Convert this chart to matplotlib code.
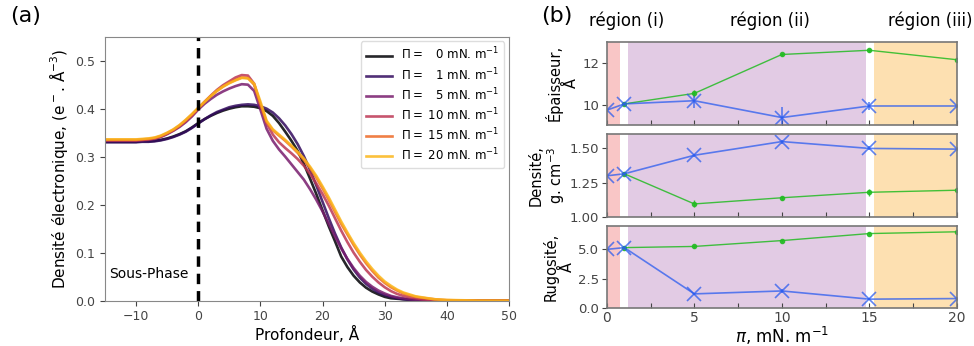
import numpy as np
import matplotlib
matplotlib.use("Agg")
import matplotlib.pyplot as plt

# ---------------- data: panel (a) ----------------
depth = [-15, -12, -10, -9, -8, -7, -6, -5, -4, -3, -2, -1, 0, 1, 2, 3, 4, 5, 6, 7, 8, 9,
         10, 11, 12, 13, 14, 15, 16, 17, 18, 19, 20, 21, 22, 23, 24, 25, 26, 27, 28, 29,
         30, 31, 32, 33, 34, 35, 36, 38, 40, 45, 50]

rho_0 = [.331, .331, .331, .332, .332, .333, .335, .338, .342, .347, .353, .361, .370, .378, .385,
         .391, .396, .400, .403, .405, .405, .404, .401, .395, .385, .370, .352, .333, .312, .285,
         .254, .222, .188, .155, .124, .092, .070, .052, .038, .027, .019, .013, .008, .005, .004,
         .003, .002, .001, .0005, 0, 0, 0, 0]
rho_1 = [.330, .330, .330, .331, .331, .332, .334, .337, .341, .346, .352, .360, .369, .378, .386,
         .393, .398, .403, .406, .408, .409, .408, .405, .400, .392, .380, .365, .347, .326, .301,
         .272, .240, .206, .172, .140, .111, .086, .065, .048, .035, .025, .017, .012, .008, .005,
         .003, .002, .001, .0005, 0, 0, 0, 0]
rho_5 = [.333, .333, .333, .334, .335, .337, .341, .347, .354, .362, .372, .384, .398, .410, .420,
         .429, .436, .442, .447, .451, .450, .437, .398, .358, .333, .315, .300, .284, .268, .252,
         .232, .210, .186, .160, .134, .109, .087, .068, .052, .039, .029, .021, .015, .010, .007,
         .005, .003, .002, .001, .0005, 0, 0, 0]
rho_10 = [.334, .334, .334, .335, .336, .338, .342, .348, .355, .364, .374, .386, .400, .414, .427,
          .439, .449, .457, .465, .470, .469, .452, .408, .370, .346, .330, .318, .307, .295, .281,
          .264, .244, .222, .198, .172, .146, .122, .100, .081, .064, .050, .038, .028, .020, .014,
          .010, .007, .005, .003, .001, .0005, 0, 0]
rho_15 = [.335, .335, .335, .336, .337, .339, .343, .349, .356, .365, .376, .388, .401, .414, .426,
          .437, .446, .454, .460, .465, .464, .450, .410, .372, .355, .344, .333, .321, .308, .293,
          .276, .256, .234, .210, .185, .160, .138, .116, .096, .078, .062, .048, .037, .028, .021,
          .015, .011, .008, .006, .003, .001, 0, 0]
rho_20 = [.336, .336, .336, .337, .338, .340, .344, .350, .357, .366, .377, .389, .402, .414, .426,
          .437, .446, .453, .459, .464, .463, .452, .415, .375, .357, .346, .335, .323, .310, .296,
          .279, .260, .238, .215, .190, .165, .142, .120, .100, .082, .066, .052, .040, .031, .023,
          .017, .013, .009, .007, .003, .0015, .0002, 0]
profiles = [rho_0, rho_1, rho_5, rho_10, rho_15, rho_20]
pressures = ["0", "1", "5", "10", "15", "20"]

# ---------------- data: panel (b) ----------------
pi_blue = [0, 1, 5, 10, 15, 20]
pi_green = [1, 5, 10, 15, 20]
thick_blue = [9.75, 10.05, 10.2, 9.4, 9.95, 9.95]
thick_blue_err = [0.1, 0.1, 0.35, 0.5, 0.2, 0.1]
thick_green = [10.05, 10.55, 12.4, 12.6, 12.15]
thick_green_err = [0.05, 0.15, 0.08, 0.08, 0.05]
dens_blue = [1.30, 1.315, 1.45, 1.55, 1.50, 1.495]
dens_blue_err = [0.01, 0.01, 0.01, 0.015, 0.015, 0.01]
dens_green = [1.315, 1.095, 1.14, 1.18, 1.195]
dens_green_err = [0.01, 0.025, 0.015, 0.025, 0.01]
rough_blue = [5.0, 5.15, 1.2, 1.45, 0.75, 0.8]
rough_blue_err = [0.1, 0.1, 0.1, 0.2, 0.1, 0.1]
rough_green = [5.15, 5.25, 5.75, 6.35, 6.5]
rough_green_err = [0.05, 0.1, 0.1, 0.15, 0.05]
region_labels = ["région (i)", "région (ii)", "région (iii)"]

# ---------------- figure ----------------
fig = plt.figure(figsize=(9.74, 3.46), dpi=100)
tick_col = "#444444"
spine_col = "#888888"

ax = fig.add_axes([0.1078, 0.131, 0.4148, 0.763])
colors = plt.cm.inferno(np.linspace(0, 1, 7))[:6]
for prof, p, c in zip(profiles, pressures, colors):
    lab = r"$\Pi=$ " + ("\u2007" if len(p) == 1 else "") + p + r" mN. m$^{-1}$"
    ax.plot(depth, prof, color=c, lw=1.9, alpha=0.85, label=lab)
ax.axvline(0, color="black", lw=2.5, ls=(0, (3, 2)))
ax.text(-14.3, 0.055, "Sous-Phase", fontsize=10, va="center", ha="left")
ax.set_xlim(-15, 50)
ax.set_ylim(0, 0.55)
ax.set_xticks([-10, 0, 10, 20, 30, 40, 50])
ax.set_yticks([0.0, 0.1, 0.2, 0.3, 0.4, 0.5])
ax.set_xlabel("Profondeur, Å", fontsize=11, labelpad=2)
ax.set_ylabel(r"Densité électronique, (e$^-$. Å$^{-3}$)", fontsize=11)
ax.tick_params(labelsize=9, colors=tick_col)
for s in ax.spines.values():
    s.set_color(spine_col)
leg = ax.legend(loc="upper right", fontsize=8.5, framealpha=1, edgecolor="#dddddd",
                handlelength=2.2, labelspacing=0.3, borderaxespad=0.4)
fig.text(0.010, 0.935, "(a)", fontsize=16)

# right panels
rb = [0.623, 0.3595]
heights = [(0.639, 0.240), (0.373, 0.240), (0.110, 0.237)]
blue = "#2a5cf0"
green = "#22bb22"
panels = [
    (thick_blue, thick_blue_err, thick_green, thick_green_err, (9.05, 13.0), [10, 12], "Épaisseur,\nÅ", -0.08),
    (dens_blue, dens_blue_err, dens_green, dens_green_err, (1.0, 1.606), [1.0, 1.25, 1.5], "Densité,\ng. cm$^{-3}$", -0.115),
    (rough_blue, rough_blue_err, rough_green, rough_green_err, (0, 7.0), [0.0, 2.5, 5.0], "Rugosité,\nÅ", -0.09),
]
for i, (yb, eb, yg, eg, ylim, yt, ylab, lx) in enumerate(panels):
    b, h = heights[i]
    a = fig.add_axes([rb[0], b, rb[1], h])
    a.axvspan(0, 0.74, color="#f9c6c6", lw=0)
    a.axvspan(1.22, 14.78, color="#e2cbe4", lw=0)
    a.axvspan(15.26, 20, color="#fde0b1", lw=0)
    a.errorbar(pi_green, yg, yerr=eg, color=green, marker=".", ms=6, lw=1, alpha=0.85)
    a.errorbar(pi_blue, yb, yerr=eb, color=blue, marker="x", ms=10, mew=1.2, lw=1.2, alpha=0.75)
    a.set_xlim(0, 20)
    a.set_ylim(*ylim)
    a.set_yticks(yt)
    a.set_xticks(np.arange(0, 20.1, 2.5))
    a.tick_params(axis="x", direction="in", colors=tick_col, labelsize=10, pad=2)
    a.tick_params(axis="y", colors=tick_col, labelsize=9.5, pad=2)
    if i < 2:
        a.set_xticklabels([])
    else:
        a.set_xticklabels(["0", "", "5", "", "10", "", "15", "", "20"])
        a.set_xlabel(r"$\pi$, mN. m$^{-1}$", fontsize=12, labelpad=0)
    if i == 1:
        a.set_yticklabels(["1.00", "1.25", "1.50"])
    if i == 2:
        a.set_yticklabels(["0.0", "2.5", "5.0"])
    a.set_ylabel(ylab, fontsize=10.5, linespacing=1.1)
    a.yaxis.set_label_coords(lx, 0.5)
    for s in a.spines.values():
        s.set_color("#777777")
        s.set_linewidth(1.2)

fig.text(0.556, 0.935, "(b)", fontsize=16)
fig.text(0.643, 0.925, region_labels[0], fontsize=12, ha="center")
fig.text(0.791, 0.925, region_labels[1], fontsize=12, ha="center")
fig.text(0.955, 0.925, region_labels[2], fontsize=12, ha="center")

fig.savefig("out.png", dpi=100)
